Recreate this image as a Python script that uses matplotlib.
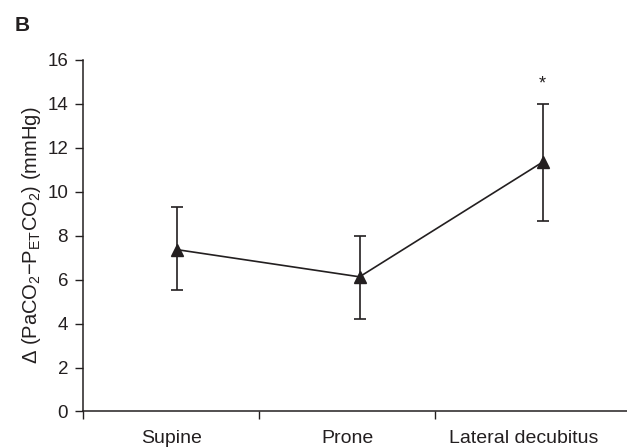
import matplotlib.pyplot as plt

plt.rcParams["font.family"] = ["Liberation Sans", "DejaVu Sans"]
plt.rcParams["mathtext.fontset"] = "custom"
plt.rcParams["mathtext.rm"] = "Liberation Sans"
plt.rcParams["mathtext.it"] = "Liberation Sans"

# Data
positions = ["Supine", "Prone", "Lateral decubitus"]
x_pos = [0.53, 1.57, 2.61]
mean = [7.37, 6.13, 11.35]
upper = [9.30, 7.99, 13.98]
lower = [5.55, 4.20, 8.69]

err_low = [m - lo for m, lo in zip(mean, lower)]
err_high = [hi - m for m, hi in zip(mean, upper)]

ink = "#231f20"

fig = plt.figure(figsize=(6.27, 4.48), dpi=100)
ax = fig.add_axes([0.1329, 0.0815, 0.8671, 0.7846])

ax.errorbar(x_pos, mean, yerr=[err_low, err_high], color=ink, lw=1.2,
            marker="^", markersize=8, capsize=4.5, elinewidth=1.2, capthick=1.2)

# significance mark
ax.text(x_pos[2], 14.5, "*", ha="center", va="bottom", fontsize=13, color=ink)

ax.set_xlim(0, 3.09)
ax.set_ylim(0, 16)
ax.set_yticks(range(0, 17, 2))
ax.set_xticks([0, 1, 2])
ax.set_xticklabels([])
ax.set_xticks([0.5, 1.5, 2.5], minor=True)
ax.set_xticklabels(positions, minor=True, fontsize=14, color=ink)
ax.tick_params(axis="x", which="minor", length=0, pad=13)
ax.tick_params(axis="both", which="major", direction="out", length=6,
               width=1, color=ink, labelsize=13.5, labelcolor=ink, pad=5)

for s in ["top", "right"]:
    ax.spines[s].set_visible(False)
for s in ["left", "bottom"]:
    ax.spines[s].set_color(ink)
    ax.spines[s].set_linewidth(1.1)

ax.set_ylabel(r"Δ (PaCO$_2$$-$P$_{\rm ET}$CO$_2$) (mmHg)", fontsize=14.5,
              color=ink, labelpad=3)

fig.text(0.024, 0.942, "B", fontsize=15, fontweight="bold", color=ink,
         ha="left", va="center")

fig.savefig("out.png", dpi=100)
